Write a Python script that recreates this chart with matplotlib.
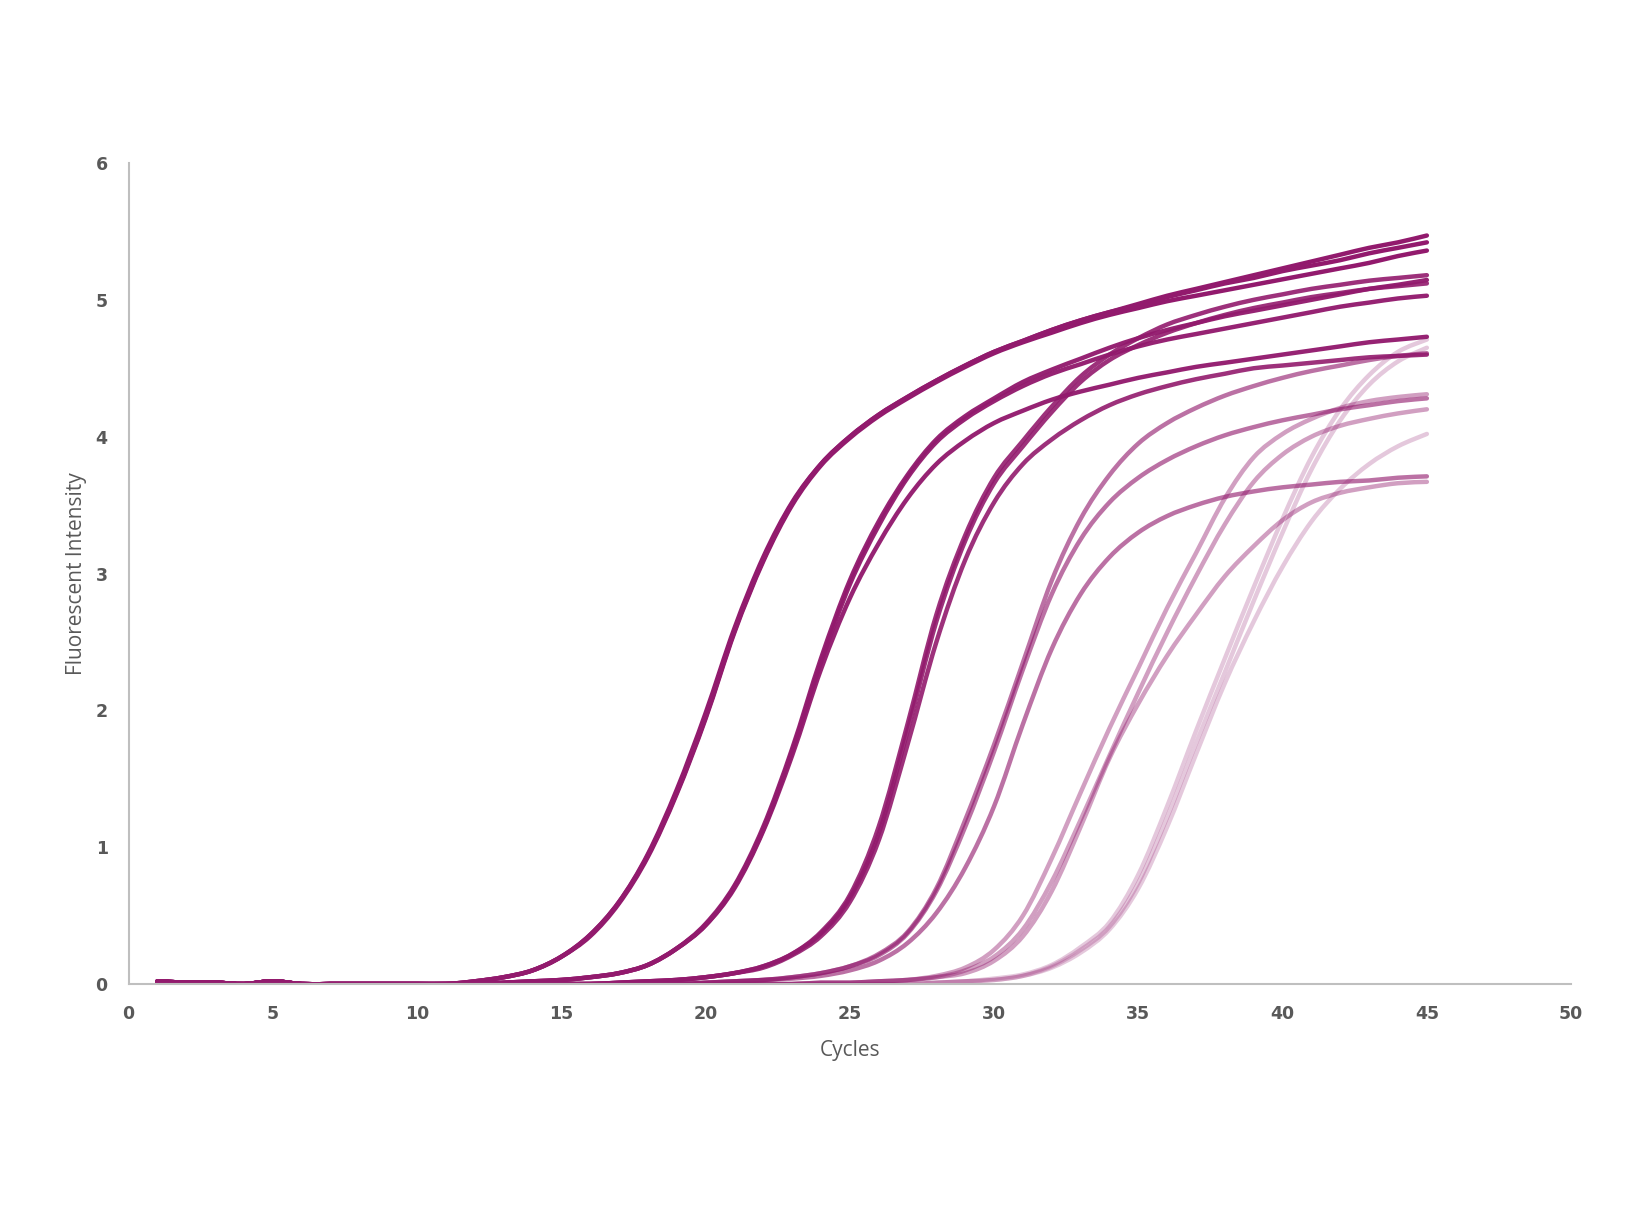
import matplotlib
matplotlib.use("Agg")
import matplotlib.pyplot as plt
from matplotlib.path import Path
from matplotlib.patches import PathPatch

# Data: fluorescence per cycle (1..45), 6 dilution groups x 3 replicates
cycles = list(range(1, 46))
base = [0.02, 0.01, 0.01, 0.0, 0.02, 0.0, 0.0, 0.0, 0.0, 0.0, 0.0]  # cycles 1-11
zeros10 = [0.0] * 10

a1 = base + [0.02, 0.05, 0.1, 0.2, 0.36, 0.6, 0.95, 1.42, 1.98, 2.6] \
          + [3.12, 3.52, 3.8, 4.0, 4.16, 4.29, 4.41, 4.52, 4.62, 4.7] \
          + [4.78, 4.85, 4.91, 4.97, 5.03, 5.08, 5.13, 5.18, 5.23, 5.28] \
          + [5.33, 5.38, 5.42, 5.47]
a2 = base + [0.02, 0.05, 0.1, 0.2, 0.36, 0.6, 0.94, 1.4, 1.95, 2.58] \
          + [3.1, 3.51, 3.8, 4.0, 4.16, 4.29, 4.41, 4.52, 4.62, 4.7] \
          + [4.78, 4.85, 4.91, 4.96, 5.02, 5.07, 5.12, 5.16, 5.21, 5.25] \
          + [5.29, 5.34, 5.38, 5.42]
a3 = base + [0.02, 0.05, 0.1, 0.2, 0.35, 0.59, 0.93, 1.39, 1.94, 2.57] \
          + [3.09, 3.5, 3.79, 3.99, 4.15, 4.28, 4.4, 4.51, 4.61, 4.69] \
          + [4.76, 4.83, 4.89, 4.94, 4.99, 5.03, 5.07, 5.11, 5.15, 5.19] \
          + [5.23, 5.27, 5.32, 5.36]

b1 = base + [0.0, 0.01, 0.02, 0.03, 0.05, 0.08, 0.14, 0.26, 0.44, 0.72] \
          + [1.15, 1.72, 2.38, 2.95, 3.38, 3.72, 3.98, 4.15, 4.28, 4.4] \
          + [4.49, 4.57, 4.65, 4.72, 4.78, 4.83, 4.88, 4.92, 4.96, 5.0] \
          + [5.04, 5.08, 5.11, 5.145]
b2 = base + [0.0, 0.01, 0.02, 0.03, 0.05, 0.08, 0.14, 0.26, 0.43, 0.71] \
          + [1.13, 1.7, 2.35, 2.92, 3.35, 3.7, 3.96, 4.13, 4.26, 4.37] \
          + [4.46, 4.53, 4.6, 4.66, 4.71, 4.75, 4.79, 4.83, 4.87, 4.91] \
          + [4.95, 4.98, 5.01, 5.03]
b3 = base + [0.0, 0.01, 0.02, 0.03, 0.05, 0.08, 0.14, 0.26, 0.43, 0.7] \
          + [1.12, 1.67, 2.3, 2.82, 3.22, 3.55, 3.8, 3.97, 4.1, 4.19] \
          + [4.27, 4.33, 4.38, 4.43, 4.47, 4.51, 4.54, 4.57, 4.6, 4.63] \
          + [4.66, 4.69, 4.71, 4.73]

c1 = base + [0.0, 0.0, 0.0, 0.0, 0.0, 0.01, 0.02, 0.03, 0.05, 0.08] \
          + [0.13, 0.22, 0.38, 0.65, 1.15, 1.9, 2.7, 3.28, 3.7, 3.97] \
          + [4.22, 4.44, 4.6, 4.72, 4.82, 4.89, 4.95, 5.0, 5.04, 5.08] \
          + [5.11, 5.14, 5.16, 5.18]
c2 = base + [0.0, 0.0, 0.0, 0.0, 0.0, 0.01, 0.02, 0.03, 0.05, 0.08] \
          + [0.13, 0.22, 0.37, 0.63, 1.1, 1.85, 2.65, 3.24, 3.66, 3.93] \
          + [4.18, 4.4, 4.56, 4.67, 4.76, 4.83, 4.89, 4.94, 4.98, 5.02] \
          + [5.05, 5.08, 5.1, 5.12]
c3 = base + [0.0, 0.0, 0.0, 0.0, 0.0, 0.01, 0.02, 0.03, 0.05, 0.08] \
          + [0.12, 0.21, 0.35, 0.6, 1.05, 1.75, 2.5, 3.1, 3.52, 3.8] \
          + [3.98, 4.12, 4.23, 4.31, 4.37, 4.42, 4.46, 4.5, 4.52, 4.54] \
          + [4.56, 4.58, 4.59, 4.6]

d1 = base + [0.0, 0.0, 0.0, 0.0, 0.0, 0.0, 0.0, 0.0, 0.01, 0.02] \
          + [0.03, 0.05, 0.08, 0.13, 0.22, 0.38, 0.7, 1.2, 1.75, 2.35] \
          + [2.95, 3.4, 3.72, 3.95, 4.1, 4.21, 4.3, 4.37, 4.43, 4.48] \
          + [4.52, 4.56, 4.59, 4.61]
d2 = base + [0.0, 0.0, 0.0, 0.0, 0.0, 0.0, 0.0, 0.0, 0.01, 0.02] \
          + [0.03, 0.05, 0.08, 0.13, 0.21, 0.37, 0.68, 1.15, 1.7, 2.3] \
          + [2.85, 3.25, 3.52, 3.7, 3.83, 3.93, 4.01, 4.07, 4.12, 4.16] \
          + [4.2, 4.23, 4.26, 4.28]
d3 = base + [0.0, 0.0, 0.0, 0.0, 0.0, 0.0, 0.0, 0.0, 0.01, 0.02] \
          + [0.03, 0.04, 0.06, 0.1, 0.17, 0.3, 0.52, 0.85, 1.3, 1.9] \
          + [2.45, 2.85, 3.12, 3.3, 3.42, 3.5, 3.56, 3.6, 3.63, 3.65] \
          + [3.67, 3.68, 3.7, 3.71]

e1 = base + zeros10 \
          + [0.0, 0.0, 0.01, 0.01, 0.02, 0.03, 0.06, 0.12, 0.25, 0.5] \
          + [0.92, 1.4, 1.87, 2.31, 2.75, 3.15, 3.55, 3.85, 4.02, 4.13] \
          + [4.21, 4.26, 4.29, 4.31]
e2 = base + zeros10 \
          + [0.0, 0.0, 0.01, 0.01, 0.02, 0.03, 0.05, 0.1, 0.2, 0.4] \
          + [0.75, 1.2, 1.67, 2.13, 2.57, 2.98, 3.36, 3.67, 3.87, 4.0] \
          + [4.08, 4.13, 4.17, 4.2]
e3 = base + zeros10 \
          + [0.0, 0.0, 0.01, 0.01, 0.02, 0.03, 0.05, 0.08, 0.17, 0.35] \
          + [0.68, 1.15, 1.65, 2.05, 2.4, 2.7, 2.98, 3.2, 3.39, 3.52] \
          + [3.59, 3.63, 3.66, 3.67]

f1 = base + zeros10 \
          + [0.0, 0.0, 0.0, 0.0, 0.0, 0.0, 0.01, 0.02, 0.04, 0.07] \
          + [0.14, 0.27, 0.45, 0.8, 1.3, 1.85, 2.38, 2.9, 3.4, 3.85] \
          + [4.2, 4.45, 4.62, 4.71]
f2 = base + zeros10 \
          + [0.0, 0.0, 0.0, 0.0, 0.0, 0.0, 0.01, 0.02, 0.03, 0.06] \
          + [0.13, 0.25, 0.42, 0.74, 1.22, 1.76, 2.28, 2.8, 3.3, 3.76] \
          + [4.12, 4.38, 4.55, 4.65]
f3 = base + zeros10 \
          + [0.0, 0.0, 0.0, 0.0, 0.0, 0.0, 0.01, 0.02, 0.03, 0.06] \
          + [0.12, 0.23, 0.4, 0.7, 1.15, 1.68, 2.2, 2.65, 3.05, 3.38] \
          + [3.62, 3.8, 3.93, 4.02]

groups = [[a1, a2, a3], [b1, b2, b3], [c1, c2, c3], [d1, d2, d3], [e1, e2, e3], [f1, f2, f3]]
group_alpha = [1.0, 0.96, 0.9, 0.62, 0.42, 0.24]
line_color = "#921A6D"

x_ticks = [0, 5, 10, 15, 20, 25, 30, 35, 40, 45, 50]
y_ticks = [0, 1, 2, 3, 4, 5, 6]


def smooth_path(xs, ys):
    # Excel-style smoothed line: cubic Bezier pieces through every data point
    verts = [(xs[0], ys[0])]
    codes = [Path.MOVETO]
    n = len(xs)
    for i in range(n - 1):
        x0, y0 = xs[max(i - 1, 0)], ys[max(i - 1, 0)]
        x1, y1 = xs[i], ys[i]
        x2, y2 = xs[i + 1], ys[i + 1]
        x3, y3 = xs[min(i + 2, n - 1)], ys[min(i + 2, n - 1)]
        verts += [(x1 + (x2 - x0) / 6, y1 + (y2 - y0) / 6),
                  (x2 - (x3 - x1) / 6, y2 - (y3 - y1) / 6),
                  (x2, y2)]
        codes += [Path.CURVE4] * 3
    return Path(verts, codes)


fig = plt.figure(figsize=(16.4, 12.31), dpi=100)
ax = fig.add_axes([0.0784, 0.2006, 0.8796, 0.667])

# draw lightest groups first so darker ones sit on top
for series, alpha in reversed(list(zip(groups, group_alpha))):
    for y in series:
        patch = PathPatch(smooth_path(cycles, y), facecolor="none", edgecolor=line_color,
                          alpha=alpha, lw=3.2, capstyle="round", joinstyle="round")
        ax.add_patch(patch)

ax.set_xlim(0, 50)
ax.set_ylim(0, 6)
ax.set_xticks(x_ticks)
ax.set_yticks(y_ticks)
ax.tick_params(length=0, pad=15, labelcolor="#595959")
for lab in ax.get_xticklabels() + ax.get_yticklabels():
    lab.set_fontweight("bold")
    lab.set_fontsize(12.5)

for side in ["top", "right"]:
    ax.spines[side].set_visible(False)
for side in ["left", "bottom"]:
    ax.spines[side].set_color("#BFBFBF")
    ax.spines[side].set_linewidth(1.5)

ax.set_xlabel("Cycles", fontsize=15, color="#595959", family="Open Sans", labelpad=12)
ax.set_ylabel("Fluorescent Intensity", fontsize=15, color="#595959", family="Open Sans", labelpad=6)

fig.savefig("out.png", dpi=100)
